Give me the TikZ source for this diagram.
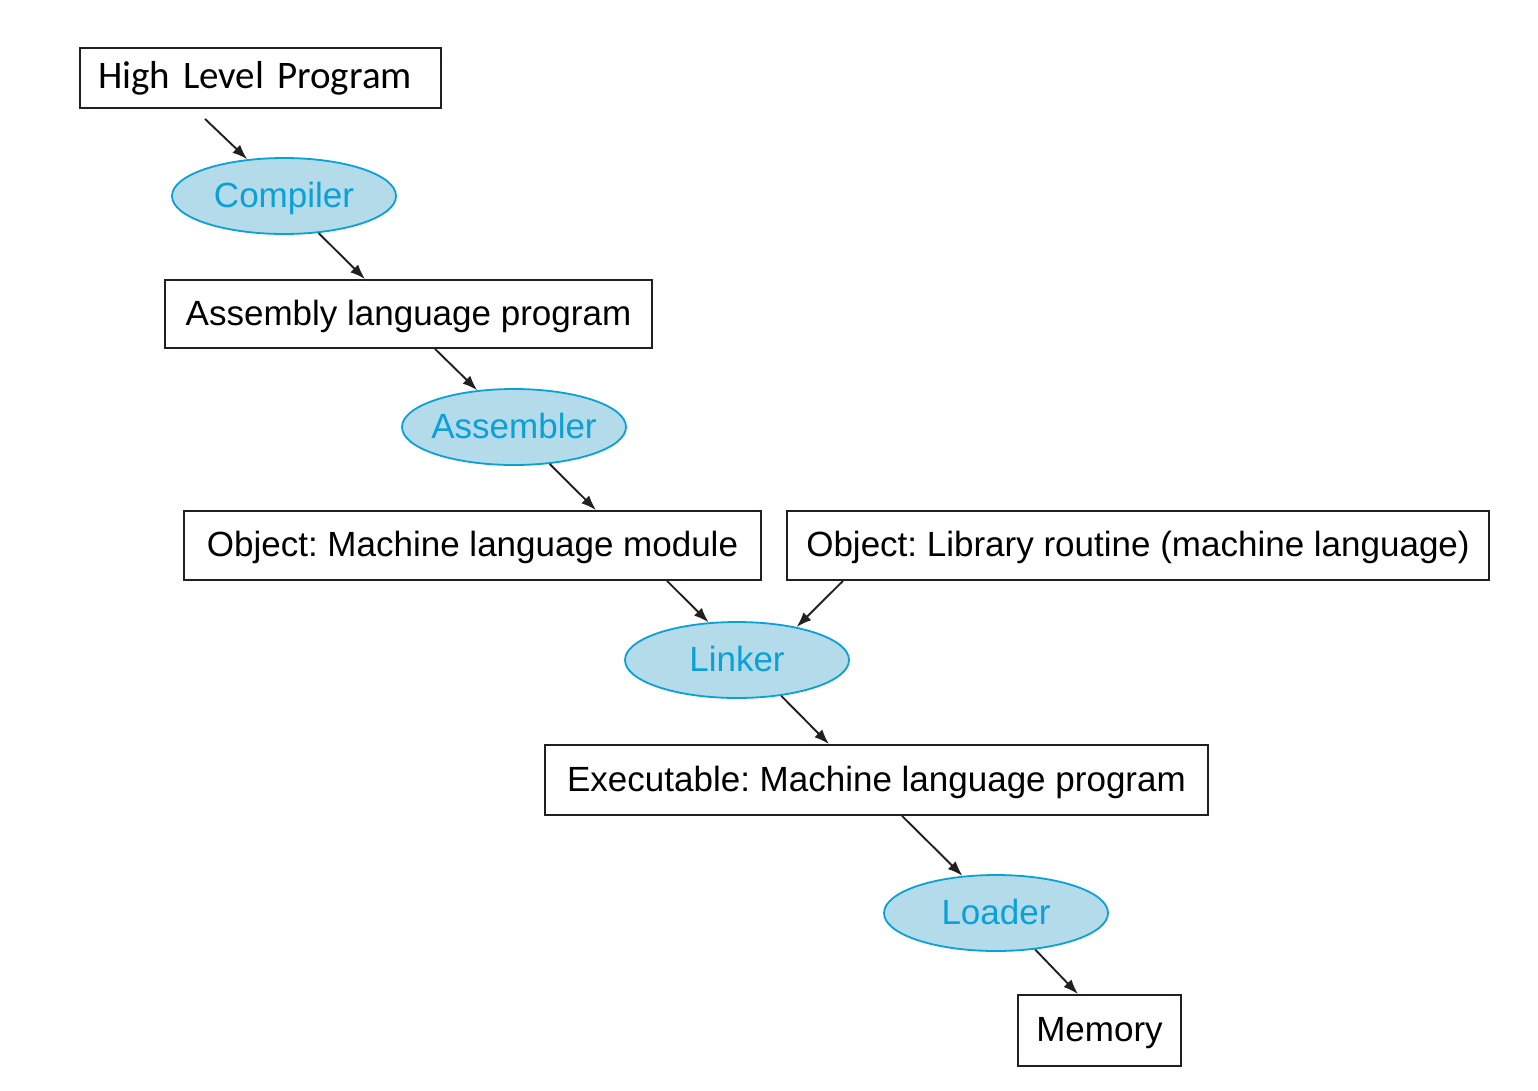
\documentclass[tikz,border=0pt]{standalone}
\usepackage{fontspec}
\setmainfont{Liberation Sans}
\newfontfamily\calfont{Carlito}
\usetikzlibrary{arrows.meta,shapes.geometric}
\definecolor{elfill}{HTML}{B4DBEA}
\definecolor{elline}{HTML}{0AA0D8}
\definecolor{ink}{HTML}{231F20}
\newcommand\elltext[1]{\makebox[150pt][c]{#1}}
\tikzset{
  boxnode/.style={draw=ink, line width=1.8pt, rectangle, inner sep=0pt, text height=29pt, text depth=7pt, font=\fontsize{35}{40}\selectfont, text=black},
  ellnode/.style={draw=elline, fill=elfill, line width=1.8pt, ellipse, inner sep=0pt, minimum width=224pt, minimum height=76pt, text height=29pt, text depth=7pt, font=\fontsize{35}{40}\selectfont, text=elline},
  arr/.style={draw=ink, line width=1.9pt, -{Latex[length=15pt,width=11pt]}}
}
\begin{document}
\frenchspacing
\begin{tikzpicture}[x=1pt,y=-1pt]
\useasboundingbox (0,0) rectangle (1538,1090);
\node[boxnode, minimum height=60pt, text width=325pt, inner xsep=18pt, align=left, text height=28pt, text depth=8pt, font=\calfont\fontsize{39}{42}\selectfont] (hlp) at (260.5,78) {High Level Program};
\node[ellnode] (comp) at (284,196) {\elltext{Compiler}};
\node[boxnode, minimum width=487pt, minimum height=68pt] (asmp) at (408.5,314) {Assembly language program};
\node[ellnode] (asm) at (514,427) {\elltext{Assembler}};
\node[boxnode, minimum width=577pt, minimum height=69pt] (objm) at (472.5,545.5) {Object: Machine language module};
\node[boxnode, minimum width=702pt, minimum height=69pt] (objl) at (1138,545.5) {Object: Library routine (machine language)};
\node[ellnode] (link) at (737,660) {\elltext{Linker}};
\node[boxnode, minimum width=663pt, minimum height=70pt] (exe) at (876.5,780) {Executable: Machine language program};
\node[ellnode] (load) at (996,913) {\elltext{Loader}};
\node[boxnode, minimum width=163pt, minimum height=71pt] (mem) at (1099.5,1030.5) {Memory};

\draw[arr] ([xshift=-55.5pt,yshift=-10pt]hlp.south) -- (comp.135);
\draw[arr] (comp.-47) -- ([xshift=-43.5pt]asmp.north);
\draw[arr] ([xshift=26.5pt]asmp.south) -- (asm.135);
\draw[arr] (asm.-46) -- ([xshift=123.5pt]objm.north);
\draw[arr] ([xshift=194.5pt]objm.south) -- (link.127);
\draw[arr] ([xshift=-295pt]objl.south) -- (link.29);
\draw[arr] (link.-39) -- ([xshift=-47.5pt]exe.north);
\draw[arr] ([xshift=25.5pt]exe.south) -- (load.132);
\draw[arr] (load.-43) -- ([xshift=-21.5pt]mem.north);
\end{tikzpicture}
\end{document}
